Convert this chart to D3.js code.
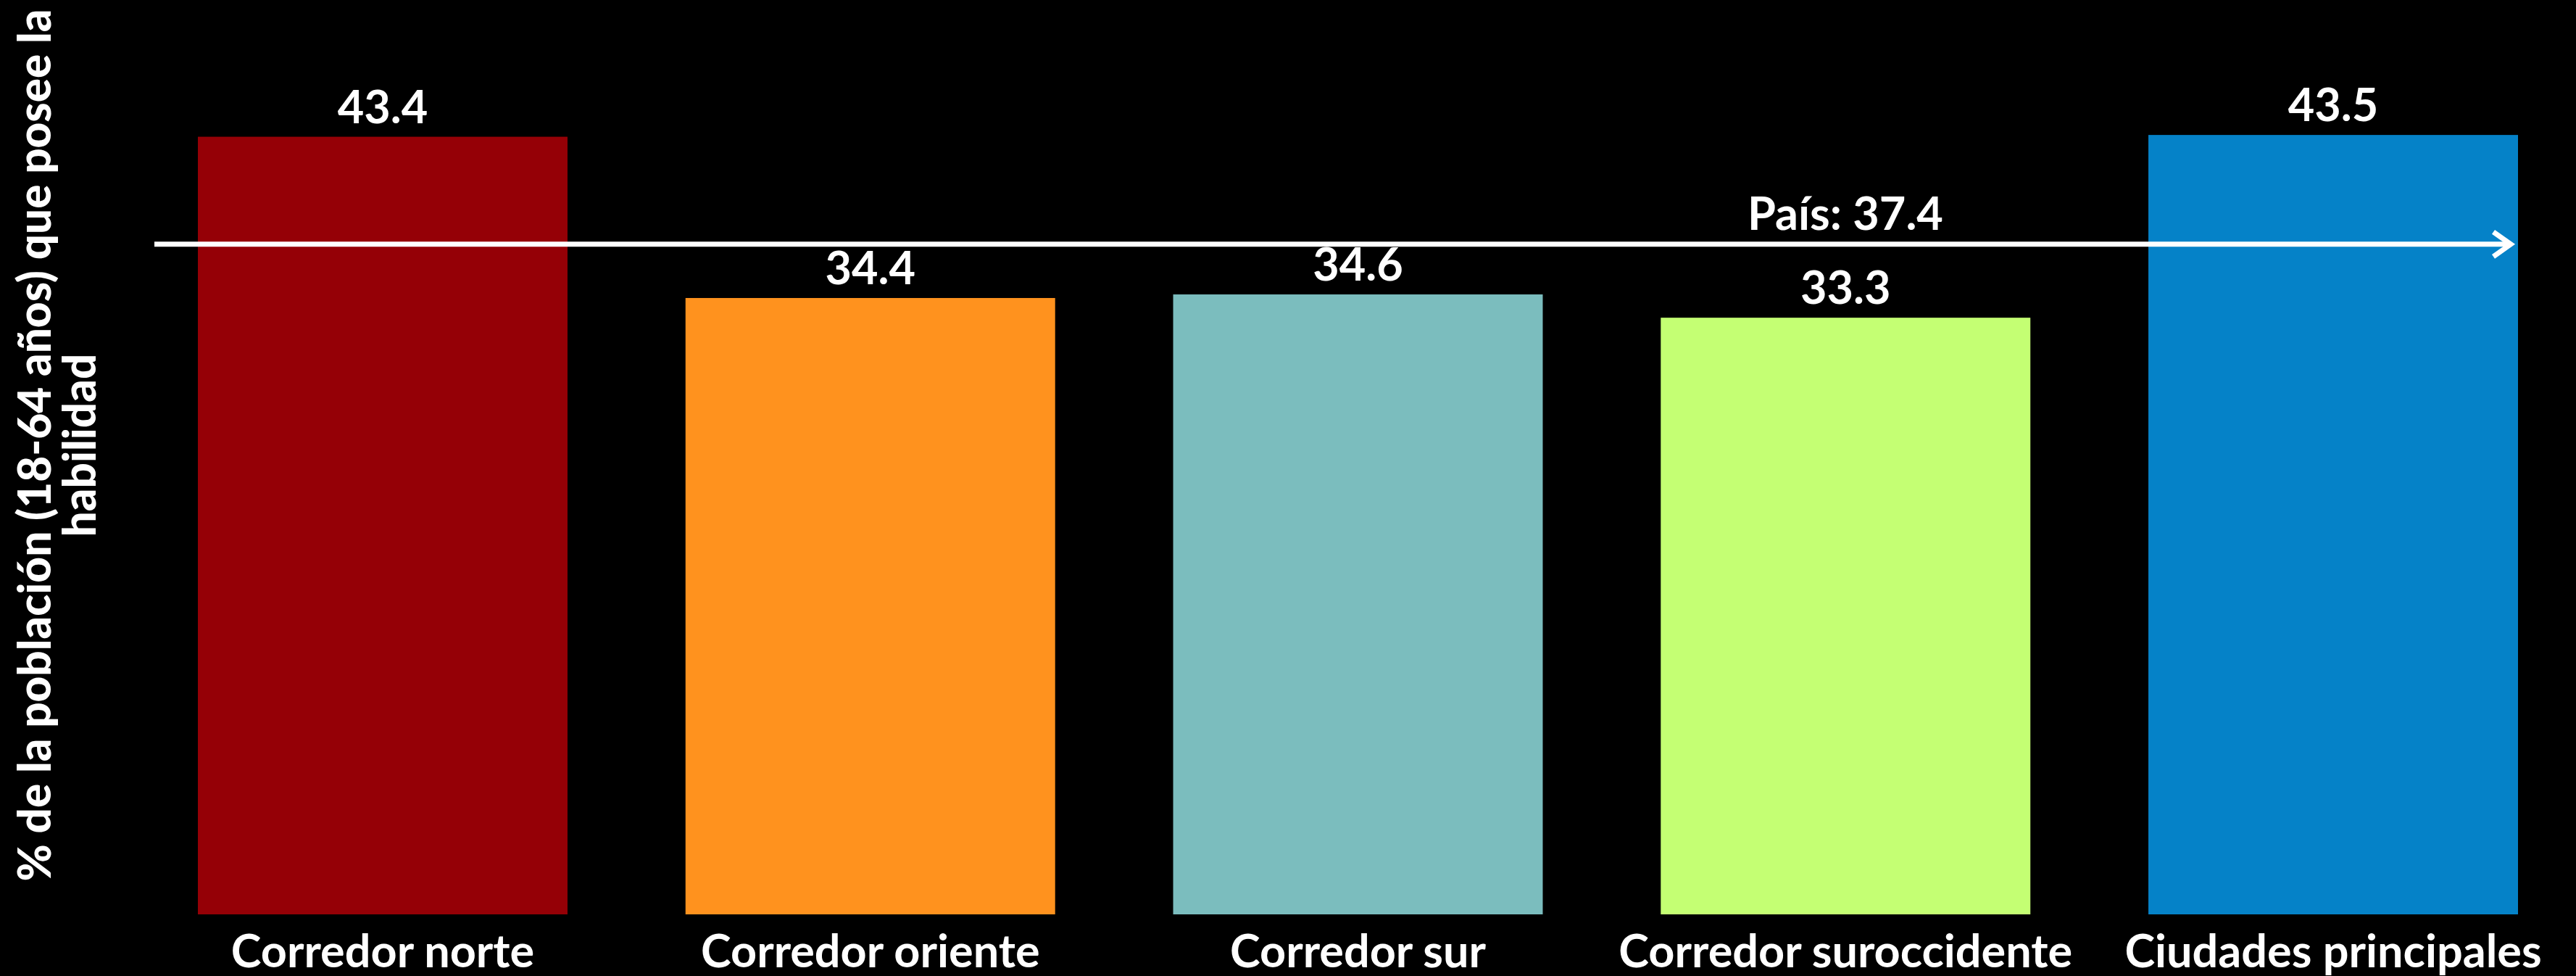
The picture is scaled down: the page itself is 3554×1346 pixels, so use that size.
<!DOCTYPE html>
<html><head><meta charset="utf-8">
<script src="https://cdn.jsdelivr.net/npm/d3@7"></script>
<style>html,body{margin:0;padding:0;background:#000;}svg{display:block;}</style>
</head><body>
<script>
const categories = ["Corredor norte","Corredor oriente","Corredor sur","Corredor suroccidente","Ciudades principales"];
const values = [43.4, 34.4, 34.6, 33.3, 43.5];
const colors = ["#950006","#FF921E","#7BBDBE","#C4FF73","#0582C8"];
const countryValue = 37.4;
const countryLabel = "País: 37.4";
const yTitleLines = ["% de la población (18-64 años) que posee la","habilidad"];

const W = 3554, H = 1346;
const font = "Lato, 'Noto Sans', sans-serif";
const svg = d3.select("body").append("svg").attr("width", W).attr("height", H).style("background","#000");

const x = d3.scaleBand().domain(categories).range([191.6, 3555.4]).paddingInner(0.242).paddingOuter(0.121);
const y = d3.scaleLinear().domain([0, 50]).range([1261, 1261 - 50*24.71]);

svg.selectAll("rect.bar").data(values).join("rect")
  .attr("class","bar")
  .attr("x",(d,i)=>x(categories[i]))
  .attr("width",x.bandwidth())
  .attr("y",d=>y(d))
  .attr("height",d=>y(0)-y(d))
  .attr("fill",(d,i)=>colors[i]);

svg.selectAll("text.val").data(values).join("text")
  .attr("class","val")
  .attr("x",(d,i)=>x(categories[i])+x.bandwidth()/2)
  .attr("y",d=>y(d)-19)
  .attr("text-anchor","middle")
  .attr("fill","#fff")
  .attr("font-family",font).attr("font-weight",700).attr("font-size",63)
  .text(d=>d.toFixed(1));

// x axis labels
const xAxis = d3.axisBottom(x).tickSize(0).tickPadding(28);
const gx = svg.append("g").attr("transform",`translate(0,${y(0)})`).call(xAxis);
gx.select(".domain").remove();
gx.selectAll("text").attr("fill","#fff").attr("font-family",font).attr("font-weight",700).attr("font-size",63).attr("dy","0.71em");

// country line with arrow
const ly = y(countryValue);
const x0 = 213, x1 = 3464;
svg.append("line").attr("x1",x0).attr("x2",x1-3).attr("y1",ly).attr("y2",ly)
  .attr("stroke","#fff").attr("stroke-width",7);
svg.append("path").attr("d",`M${x1-24},${ly-17}L${x1},${ly}L${x1-24},${ly+17}`)
  .attr("fill","none").attr("stroke","#fff").attr("stroke-width",7).attr("stroke-linejoin","miter");
svg.append("text").attr("x",2546).attr("y",ly-20).attr("text-anchor","middle")
  .attr("fill","#fff").attr("font-family",font).attr("font-weight",700).attr("font-size",63)
  .text(countryLabel);

// y title
const yt = svg.append("text").attr("transform","translate(70,614) rotate(-90)")
  .attr("text-anchor","middle").attr("fill","#fff")
  .attr("font-family",font).attr("font-weight",900).attr("font-size",62);
yTitleLines.forEach((t,i)=>{
  yt.append("tspan").attr("x",0).attr("y",i*62).text(t);
});
</script>
</body></html>
